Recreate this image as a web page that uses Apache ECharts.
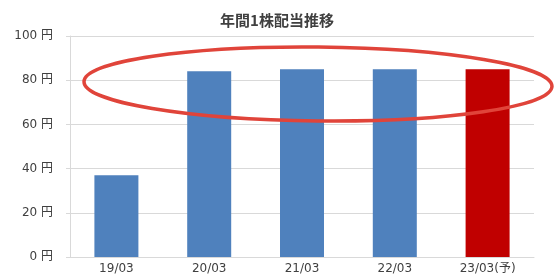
<!DOCTYPE html>
<html>
<head>
<meta charset="utf-8">
<script src="https://cdn.jsdelivr.net/npm/echarts@6/dist/echarts.min.js"></script>
<style>
  html, body { margin: 0; padding: 0; background: #fff; }
  #chart { width: 554px; height: 278px; }
</style>
</head>
<body>
<div id="chart"></div>
<script>
var categories = ['19/03', '20/03', '21/03', '22/03', '23/03(予)'];
var dividends = [37, 84, 85, 85, 85];
var forecastIndex = 4;
var yTicks = [0, 20, 40, 60, 80, 100];

var myChart = echarts.init(document.getElementById('chart'));
var font = '"Noto Sans CJK JP", "Noto Sans", sans-serif';
var labelFont = '"DejaVu Sans", "Noto Sans CJK JP", sans-serif';

var barData = [];
for (var i = 0; i < dividends.length; i++) {
    barData.push({
        value: dividends[i],
        itemStyle: { color: i === forecastIndex ? '#c00000' : '#4f81bd' }
    });
}

var option = {
    animation: false,
    textStyle: { fontFamily: font },
    title: {
        text: '年間1株配当推移',
        left: 'center',
        top: 8,
        textStyle: { fontSize: 15, fontWeight: 'bold', color: '#404040', fontFamily: font }
    },
    grid: { left: 70, right: 20, top: 36, bottom: 21 },
    xAxis: {
        type: 'category',
        data: categories,
        axisLine: { lineStyle: { color: '#d9d9d9' } },
        axisTick: { inside: true, length: 8, lineStyle: { color: '#d9d9d9' } },
        axisLabel: { color: '#404040', fontSize: 12, margin: 6, fontFamily: labelFont }
    },
    yAxis: {
        type: 'value',
        min: yTicks[0],
        max: yTicks[yTicks.length - 1],
        interval: yTicks[1] - yTicks[0],
        axisLine: { show: true, lineStyle: { color: '#d9d9d9' } },
        axisTick: { show: true, length: 4, lineStyle: { color: '#d9d9d9' } },
        splitLine: { lineStyle: { color: '#d9d9d9' } },
        axisLabel: { color: '#404040', fontSize: 12, margin: 17, fontFamily: labelFont, formatter: '{value} 円' }
    },
    series: [{
        type: 'bar',
        data: barData,
        barWidth: 44
    }],
    graphic: [{
        type: 'ellipse',
        shape: { cx: 318, cy: 84, rx: 234, ry: 37 },
        rotation: -0.01,
        originX: 318,
        originY: 84,
        style: { fill: 'none', stroke: '#e0443a', lineWidth: 3.5 },
        z: 100
    }]
};

myChart.setOption(option);
window.addEventListener('resize', function () {
    myChart.resize();
});
</script>
</body>
</html>
